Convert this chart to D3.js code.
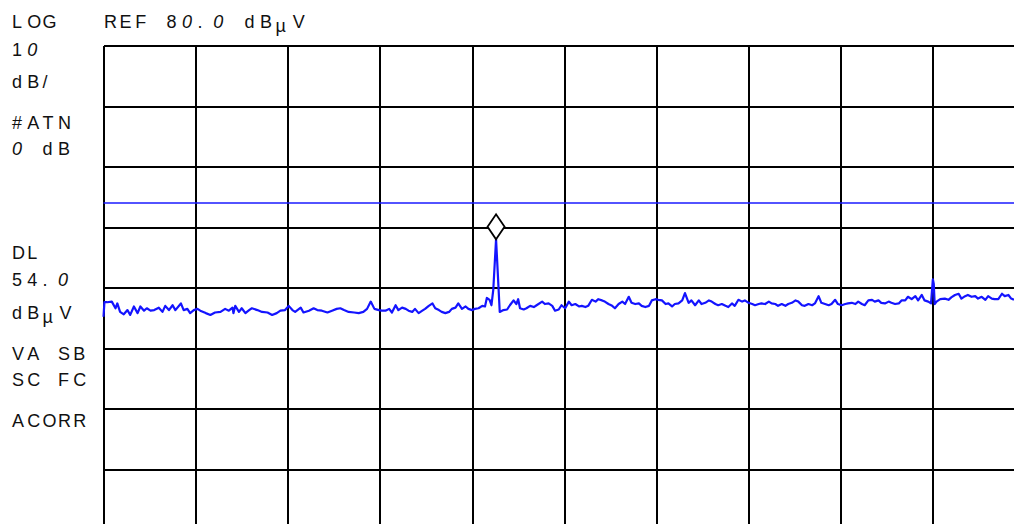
<!DOCTYPE html>
<html>
<head>
<meta charset="utf-8">
<script src="https://cdn.jsdelivr.net/npm/d3@7"></script>
<style>
  html, body { margin: 0; padding: 0; background: #fff; overflow: hidden; }
  svg { display: block; }
</style>
</head>
<body>
<svg id="chart" width="1014" height="524"></svg>
<script>
// Analyzer settings
const refLevel = 80.0;        // dBµV at top graticule line
const dbPerDiv = 10;          // LOG scale, dB per division
const attenuation = 0;        // input attenuator, dB
const displayLine = 54.0;     // display line level, dBµV
const yDivisions = 8;
const xDivisions = 10;
const traceBinCount = 1000;

// Side annotations
const statusRows = ["VA SB", "SC FC", "ACORR"];

// Measured trace: [bin, level dBµV]
const trace = [
  [0,35.2],[1,37.6],[4,37.6],[9,37.7],[13,36.6],[15,37.4],[18,36.0],[22,35.6],[26,36.3],[29,35.5],
  [33,36.9],[37,35.8],[40,36.9],[44,36.2],[47,36.6],[51,36.2],[55,36.3],[60,36.7],[64,36.0],[67,37.0],
  [71,36.3],[75,37.1],[78,36.3],[84,37.4],[87,36.3],[91,36.5],[94,35.8],[98,36.3],[102,36.5],[105,36.2],
  [111,35.8],[116,35.5],[121,35.9],[127,36.0],[132,36.5],[136,36.2],[140,36.7],[141,35.8],[143,37.0],[147,36.0],
  [150,36.6],[154,35.8],[158,36.3],[161,36.6],[167,36.3],[172,36.0],[178,35.9],[183,35.5],[188,35.8],[192,36.2],
  [197,36.3],[201,37.0],[205,36.3],[208,36.0],[214,36.7],[217,35.9],[223,36.2],[228,36.6],[232,36.3],[237,36.2],
  [243,35.9],[248,36.2],[253,36.5],[257,36.6],[261,36.3],[266,36.0],[272,35.9],[277,35.8],[282,36.0],[286,36.5],
  [290,37.7],[294,36.5],[299,36.3],[302,36.2],[306,36.2],[310,36.5],[313,35.9],[317,37.1],[320,36.3],[324,36.7],
  [328,36.5],[331,36.2],[335,36.0],[338,36.5],[342,35.8],[346,36.2],[349,36.5],[353,37.0],[357,37.4],[360,36.6],
  [364,36.3],[367,36.0],[371,35.8],[375,36.0],[378,36.5],[382,36.7],[385,37.4],[389,36.5],[393,36.9],[396,36.5],
  [400,36.3],[403,36.5],[407,36.6],[411,37.0],[414,36.9],[416,38.3],[419,38.0],[421,37.1],[423,39.7],[426,48.0],
  [430,36.0],[434,36.3],[438,36.4],[441,37.1],[445,37.9],[448,37.3],[450,38.1],[452,36.6],[456,36.4],[459,36.6],
  [463,37.0],[467,36.8],[470,37.1],[476,37.7],[479,37.3],[483,37.4],[487,37.0],[490,36.2],[494,36.4],[497,37.1],
  [501,36.6],[505,37.7],[508,37.1],[512,37.3],[516,36.9],[519,37.0],[523,36.8],[526,37.0],[530,38.0],[534,37.7],
  [537,38.1],[541,37.9],[544,37.7],[548,37.3],[552,37.0],[555,36.6],[559,37.3],[563,37.7],[566,37.3],[570,38.5],
  [573,37.5],[577,37.3],[581,37.4],[584,37.0],[588,36.8],[592,37.0],[595,37.9],[599,38.1],[602,38.0],[606,37.9],
  [610,37.3],[613,37.4],[617,36.9],[620,37.3],[624,37.4],[628,37.9],[631,39.1],[635,37.5],[638,37.9],[642,37.1],
  [646,37.9],[649,37.3],[653,37.5],[657,37.9],[660,37.7],[664,37.3],[667,37.1],[671,37.3],[675,37.0],[678,36.8],
  [682,37.4],[685,37.0],[689,38.0],[693,37.7],[696,37.9],[700,37.5],[704,37.3],[707,37.1],[711,37.3],[714,37.4],
  [718,37.3],[722,37.7],[725,37.4],[729,37.3],[732,37.0],[736,37.3],[740,37.0],[743,37.3],[747,37.5],[751,37.9],
  [754,37.7],[758,37.1],[761,37.0],[765,37.3],[769,37.1],[772,37.4],[776,38.6],[779,37.5],[783,37.3],[787,37.1],
  [790,37.3],[794,38.0],[797,37.3],[801,37.1],[805,37.3],[808,37.4],[812,37.5],[816,37.3],[819,37.7],[823,37.3],
  [826,37.1],[830,37.9],[834,38.0],[837,37.7],[841,37.9],[844,37.5],[848,37.4],[852,37.7],[855,37.5],[859,37.3],
  [863,37.4],[866,37.9],[870,37.9],[873,38.5],[877,38.1],[881,38.6],[884,37.9],[888,38.8],[891,37.9],[895,37.7],
  [898,37.4],[900,41.4],[901,40.6],[902,37.3],[904,37.7],[908,38.1],[913,38.2],[917,38.0],[920,38.4],[924,38.8],
  [928,39.0],[931,38.2],[935,38.6],[938,38.8],[942,38.5],[946,38.6],[949,38.2],[953,38.5],[957,38.0],[960,38.6],
  [964,38.2],[967,38.1],[971,38.1],[975,39.0],[978,38.6],[982,38.8],[985,38.2],[988,38.0]
];

// ---- layout ----
const plot = { left: 103.5, right: 1025, top: 45.7, bottom: 529.7 };
const svg = d3.select("#chart");

const x = d3.scaleLinear().domain([0, traceBinCount]).range([plot.left, plot.right]);
const y = d3.scaleLinear()
  .domain([refLevel - yDivisions * dbPerDiv, refLevel])
  .range([plot.bottom, plot.top]);

const fmt1 = d3.format(".1f");

// ---- graticule ----
const grid = svg.append("g").attr("class", "graticule");
grid.append("g")
  .attr("transform", `translate(0,${plot.top})`)
  .call(d3.axisTop(x).ticks(xDivisions).tickSize(-(plot.bottom - plot.top)).tickFormat(""))
  .call(g => g.select(".domain").remove());
grid.append("g")
  .attr("transform", `translate(${plot.left},0)`)
  .call(d3.axisLeft(y).ticks(yDivisions).tickSize(-(plot.right - plot.left)).tickFormat(""))
  .call(g => g.select(".domain").remove());
grid.selectAll("line")
  .attr("stroke", "#000")
  .attr("stroke-width", 2)
  .attr("shape-rendering", "crispEdges");

// ---- display line ----
svg.append("line")
  .attr("x1", plot.left).attr("x2", plot.right)
  .attr("y1", y(displayLine)).attr("y2", y(displayLine))
  .attr("stroke", "#1a1aff")
  .attr("stroke-width", 1.6);

// ---- trace ----
const line = d3.line().x(d => x(d[0])).y(d => y(d[1]));
svg.append("path")
  .datum(trace)
  .attr("fill", "none")
  .attr("stroke", "#1414ff")
  .attr("stroke-width", 2.2)
  .attr("stroke-linejoin", "round")
  .attr("d", line);

// ---- marker on highest point ----
const peak = trace.reduce((a, b) => (b[1] > a[1] ? b : a));
const mx = x(peak[0]), my = y(peak[1]);
const hw = 8.5, hh = 12.5;
svg.append("path")
  .attr("d", `M${mx},${my} L${mx + hw},${my - hh} L${mx},${my - 2 * hh} L${mx - hw},${my - hh} Z`)
  .attr("fill", "#fff")
  .attr("stroke", "#000")
  .attr("stroke-width", 1.8)
  .attr("stroke-linejoin", "miter");

// ---- annotation text in fixed character cells ----
const cell = 15.3;
function cellText(str, x0, baseline, cw) {
  const g = svg.append("g");
  let cx = x0;
  Array.from(str).forEach(ch => {
    if (ch !== " ") {
      const t = g.append("text")
        .attr("x", cx)
        .attr("y", baseline + (ch === "µ" ? 4 : 0))
        .attr("font-family", "'Liberation Sans', Arial, sans-serif")
        .attr("font-size", 18)
        .attr("fill", "#111")
        .text(ch);
      if (ch === "0") t.attr("font-style", "italic");
    }
    cx += (ch === "µ" ? cw + 1.5 : cw);
  });
}

const unit = "dBµV";
cellText("LOG", 12, 28, cell);
cellText("REF " + fmt1(refLevel) + " " + unit, 104, 28, 15.6);
cellText(String(dbPerDiv), 12, 56, cell);
cellText("dB/", 12, 88, cell);
cellText("#ATN", 12, 129, cell);
cellText(attenuation + " dB", 12, 155, cell);
cellText("DL", 12, 259, cell);
cellText(fmt1(displayLine), 12, 286, cell);
cellText(unit, 12, 319, cell);
const statusBaselines = [360, 386, 427];
statusRows.forEach((s, i) => cellText(s, 12, statusBaselines[i], cell));
</script>
</body>
</html>
